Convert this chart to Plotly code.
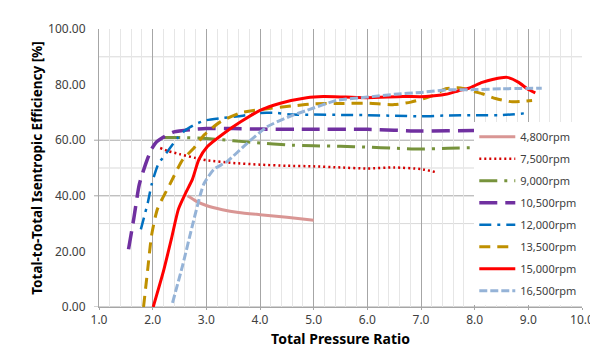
import plotly.graph_objects as go

# ---- data ----
names = ["4,800rpm", "7,500rpm", "9,000rpm", "10,500rpm", "12,000rpm", "13,500rpm", "15,000rpm", "16,500rpm"]

x_4800 = [2.65, 2.8, 3.0, 3.3, 3.6, 4.0, 4.5, 5.0]
y_4800 = [40.0, 38.2, 36.5, 35.0, 34.0, 33.2, 32.3, 31.2]

x_7500 = [2.14, 2.3, 2.5, 2.8, 3.0, 3.5, 4.0, 4.5, 5.0, 5.5, 6.0, 6.5, 7.0, 7.28]
y_7500 = [57.2, 56.0, 55.0, 53.6, 52.8, 51.8, 51.2, 50.8, 50.6, 50.2, 49.8, 50.2, 49.6, 48.5]

x_9000 = [2.18, 2.5, 3.0, 3.5, 4.0, 4.5, 5.0, 5.5, 6.0, 6.5, 7.0, 7.5, 8.0]
y_9000 = [61.0, 61.0, 60.6, 59.8, 59.0, 58.3, 58.0, 57.8, 57.5, 57.1, 56.8, 57.1, 57.3]

x_10500 = [1.55, 1.65, 1.75, 1.87, 1.97, 2.08, 2.19, 2.4, 2.7, 3.0, 3.5, 4.0, 5.0, 6.0, 7.0, 8.0, 8.85]
y_10500 = [20.8, 32.0, 44.0, 51.5, 56.5, 59.5, 61.0, 63.0, 63.8, 64.2, 64.2, 64.0, 63.9, 63.9, 63.3, 63.5, 63.6]

x_12000 = [1.78, 1.91, 1.98, 2.1, 2.28, 2.46, 2.6, 2.8, 3.0, 3.3, 3.6, 4.0, 4.3, 4.6, 5.0, 5.5, 6.0, 6.5, 7.0, 7.5, 8.0, 8.5, 9.0]
y_12000 = [27.9, 37.6, 44.0, 51.2, 56.0, 60.7, 63.5, 65.8, 67.2, 68.0, 68.6, 69.8, 69.8, 69.2, 69.2, 69.1, 69.0, 68.8, 68.6, 68.9, 69.0, 69.0, 69.8]

x_13500 = [1.83, 1.91, 1.98, 2.09, 2.32, 2.56, 2.77, 2.96, 3.26, 3.63, 4.0, 4.69, 5.0, 5.5, 6.0, 6.5, 6.81, 7.22, 7.46, 7.74, 7.96, 8.14, 8.39, 8.7, 9.07]
y_13500 = [0.0, 14.0, 25.8, 35.3, 44.1, 53.0, 57.2, 61.9, 66.6, 69.8, 71.0, 72.5, 73.1, 73.2, 73.3, 72.8, 73.7, 76.0, 78.5, 78.8, 77.6, 76.7, 75.0, 73.8, 74.3]

x_15000 = [2.01, 2.2, 2.35, 2.48, 2.62, 2.74, 2.86, 3.02, 3.33, 3.64, 4.0, 4.38, 4.87, 5.18, 5.6, 6.0, 6.66, 7.09, 7.46, 7.7, 7.89, 8.14, 8.35, 8.6, 8.82, 8.98, 9.13]
y_15000 = [0.0, 12.8, 24.6, 35.2, 41.2, 45.9, 53.0, 57.7, 62.5, 66.6, 70.7, 73.3, 75.3, 75.7, 75.5, 75.3, 75.7, 75.7, 76.5, 77.8, 78.7, 80.8, 81.9, 82.6, 80.8, 78.5, 77.0]

x_16500 = [2.37, 2.56, 2.74, 2.9, 2.96, 3.14, 3.39, 3.76, 4.13, 4.56, 4.87, 5.43, 6.0, 6.5, 7.0, 7.5, 8.0, 8.5, 9.25]
y_16500 = [1.5, 15.1, 29.3, 41.2, 44.5, 49.5, 52.4, 58.9, 64.8, 68.6, 70.7, 74.3, 75.5, 76.5, 77.2, 78.1, 78.2, 78.5, 78.7]

y_tick_vals = [0, 20, 40, 60, 80, 100]
x_tick_vals = [1, 2, 3, 4, 5, 6, 7, 8, 9, 10]
grid_dark = [40, 60]
grid_light = [30, 50, 90]

# ---- styles ----
xs = [x_4800, x_7500, x_9000, x_10500, x_12000, x_13500, x_15000, x_16500]
ys = [y_4800, y_7500, y_9000, y_10500, y_12000, y_13500, y_15000, y_16500]
colors = ["#d99694", "#d40000", "#77933c", "#7030a0", "#0070c0", "#bf9000", "#ff0000", "#95b3d7"]
widths = [3, 2.5, 3, 3.5, 2.5, 3, 3, 3]
dashes = ["solid", "2px,3px", "18px,7px,3px,7px", "18px,8px", "12px,6px,3px,6px", "11px,7px", "solid", "8px,3px"]

FONT = "Noto Sans"

fig = go.Figure()
for i, n in enumerate(names):
    fig.add_trace(go.Scatter(
        x=xs[i], y=ys[i], mode="lines", name=n, legendgroup=n,
        line=dict(color=colors[i], width=widths[i], dash=dashes[i], shape="spline", smoothing=0.6),
    ))

shapes = []
for v in grid_light:
    shapes.append(dict(type="line", xref="paper", yref="y", x0=0, x1=1, y0=v, y1=v,
                       line=dict(color="#d9d9d9", width=1), layer="below"))
for v in grid_dark + [0]:
    shapes.append(dict(type="line", xref="paper", yref="y", x0=-5 / 486, x1=1, y0=v, y1=v,
                       line=dict(color="#a6a6a6", width=1), layer="below"))

fig.update_layout(
    width=598, height=352,
    margin=dict(l=91, r=21, t=18, b=53),
    paper_bgcolor="white", plot_bgcolor="white",
    font=dict(family=FONT, size=12, color="#404040"),
    shapes=shapes,
    showlegend=True,
    legend=dict(x=0.777, y=0.665, xanchor="left", yanchor="top",
                bgcolor="white", borderwidth=0,
                font=dict(family=FONT, size=11, color="#404040"),
                tracegroupgap=3, itemwidth=36),
    xaxis=dict(range=[1, 10], tickvals=x_tick_vals, ticktext=[f"{v:.1f}" for v in x_tick_vals],
               showgrid=True, gridcolor="#a6a6a6", gridwidth=1,
               minor=dict(dtick=0.2, showgrid=True, gridcolor="#e6e6e6", gridwidth=1),
               showline=True, linecolor="#a6a6a6", linewidth=1,
               ticks="outside", ticklen=2, tickcolor="#a6a6a6",
               zeroline=False, tickfont=dict(size=12, color="#404040"),
               title=dict(text="<b>Total Pressure Ratio</b>", font=dict(size=14, color="#000000"), standoff=6)),
    yaxis=dict(range=[0, 100], tickvals=y_tick_vals, ticktext=[f"{v:.2f}" for v in y_tick_vals],
               showgrid=False, showline=True, linecolor="#a6a6a6", linewidth=1,
               ticks="outside", ticklen=10, tickcolor="rgba(0,0,0,0)",
               zeroline=False, tickfont=dict(size=12, color="#404040"),
               title=dict(text="<b>Total-to-Total Isentropic Efficiency [%]</b>", font=dict(size=13.5, color="#000000"), standoff=2)),
)

fig.write_html("out.html")
